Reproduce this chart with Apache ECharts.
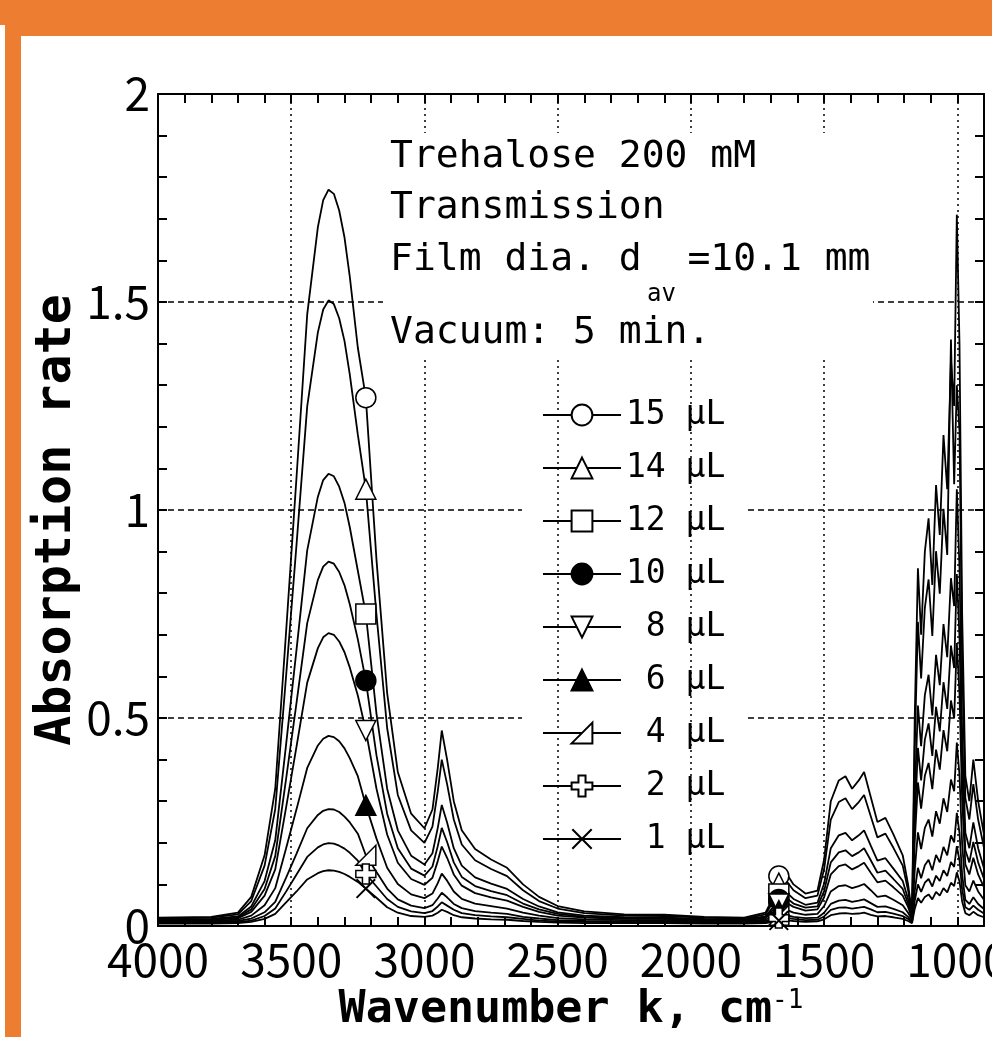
<!DOCTYPE html>
<html>
<head>
<meta charset="utf-8">
<title>Trehalose 200 mM - Transmission</title>
<script src="https://cdn.jsdelivr.net/npm/echarts/dist/echarts.min.js"></script>
<style>
  html, body { margin: 0; padding: 0; background: #fff; }
  #grafica { width: 992px; height: 1037px; }
</style>
</head>
<body>
<div id="grafica"></div>
<script>
// Numero de onda (cm-1), mismo eje para todas las curvas
const numeroOnda = [
  4000, 3800, 3700, 3650, 3600, 3560, 3520, 3480, 3440, 3400, 3380, 3360, 3340, 3320, 3300, 3280, 3250, 3220, 3180, 3140, 3100, 3050,
  3000, 2970, 2950, 2935, 2915, 2890, 2860, 2810, 2750, 2690, 2630, 2570, 2500,
  2400, 2250, 2100, 1950, 1800,
  1720, 1690, 1670, 1645, 1615, 1570, 1525, 1500,
  1475, 1445, 1420, 1395, 1370, 1350, 1325, 1300, 1270, 1240, 1205, 1185, 1170,
  1160, 1148, 1136, 1122, 1108, 1094, 1080, 1066, 1052, 1038, 1024, 1012, 1002, 992, 982, 970, 955, 940, 922, 900
];

const abs15 = [
  0.020, 0.022, 0.032, 0.070, 0.17, 0.33, 0.70, 1.08, 1.47, 1.68, 1.745, 1.77, 1.76, 1.72, 1.655, 1.56, 1.39, 1.27, 0.88, 0.56, 0.37, 0.27,
  0.235, 0.28, 0.38, 0.47, 0.40, 0.30, 0.23, 0.185, 0.16, 0.14, 0.10, 0.07, 0.048,
  0.035, 0.028, 0.027, 0.022, 0.020,
  0.032, 0.07, 0.12, 0.13, 0.10, 0.078, 0.085, 0.16,
  0.30, 0.35, 0.36, 0.33, 0.35, 0.37, 0.31, 0.25, 0.26, 0.22, 0.17, 0.10, 0.03,
  0.50, 0.86, 0.70, 0.90, 0.98, 0.82, 1.06, 0.94, 1.18, 1.05, 1.36, 1.25, 1.71, 1.40, 0.75, 0.36, 0.30, 0.40, 0.30, 0.22
];
const abs14 = [
  0.018, 0.020, 0.028, 0.060, 0.145, 0.281, 0.595, 0.918, 1.249, 1.427, 1.482, 1.504, 1.495, 1.461, 1.406, 1.325, 1.181, 1.050, 0.748, 0.476, 0.315, 0.230,
  0.200, 0.239, 0.324, 0.400, 0.341, 0.256, 0.196, 0.158, 0.137, 0.120, 0.086, 0.060, 0.042,
  0.031, 0.025, 0.024, 0.020, 0.018,
  0.028, 0.060, 0.103, 0.111, 0.086, 0.067, 0.073, 0.137,
  0.256, 0.298, 0.307, 0.281, 0.298, 0.315, 0.264, 0.213, 0.222, 0.188, 0.145, 0.086, 0.026,
  0.425, 0.731, 0.595, 0.765, 0.833, 0.697, 0.901, 0.799, 1.003, 0.892, 1.410, 1.062, 1.300, 1.190, 0.638, 0.307, 0.256, 0.341, 0.256, 0.188
];
const abs12 = [
  0.016, 0.017, 0.023, 0.047, 0.108, 0.206, 0.432, 0.665, 0.903, 1.032, 1.072, 1.087, 1.081, 1.056, 1.017, 0.958, 0.854, 0.750, 0.510, 0.330, 0.230, 0.169,
  0.148, 0.175, 0.236, 0.291, 0.249, 0.187, 0.145, 0.117, 0.102, 0.089, 0.065, 0.047, 0.033,
  0.025, 0.021, 0.020, 0.017, 0.016,
  0.023, 0.047, 0.077, 0.083, 0.065, 0.051, 0.056, 0.102,
  0.187, 0.218, 0.224, 0.206, 0.218, 0.230, 0.193, 0.157, 0.163, 0.138, 0.108, 0.065, 0.022,
  0.310, 0.530, 0.432, 0.555, 0.604, 0.506, 0.652, 0.579, 0.726, 0.646, 0.836, 0.769, 1.050, 0.861, 0.463, 0.224, 0.187, 0.249, 0.187, 0.138
];
const abs10 = [
  0.015, 0.016, 0.021, 0.040, 0.089, 0.168, 0.350, 0.537, 0.728, 0.832, 0.864, 0.876, 0.871, 0.851, 0.819, 0.773, 0.689, 0.590, 0.410, 0.270, 0.187, 0.138,
  0.121, 0.143, 0.192, 0.236, 0.202, 0.153, 0.118, 0.096, 0.084, 0.074, 0.054, 0.040, 0.029,
  0.022, 0.019, 0.018, 0.016, 0.015,
  0.021, 0.040, 0.064, 0.069, 0.054, 0.044, 0.047, 0.084,
  0.153, 0.177, 0.182, 0.168, 0.177, 0.187, 0.158, 0.128, 0.133, 0.113, 0.089, 0.054, 0.020,
  0.251, 0.428, 0.350, 0.448, 0.487, 0.409, 0.527, 0.468, 0.586, 0.522, 0.674, 0.620, 0.846, 0.694, 0.374, 0.182, 0.153, 0.202, 0.153, 0.113
];
const abs8 = [
  0.014, 0.015, 0.019, 0.034, 0.073, 0.136, 0.282, 0.432, 0.585, 0.668, 0.694, 0.704, 0.700, 0.684, 0.658, 0.621, 0.554, 0.470, 0.330, 0.220, 0.152, 0.113,
  0.099, 0.116, 0.156, 0.191, 0.164, 0.124, 0.097, 0.079, 0.069, 0.061, 0.046, 0.034, 0.025,
  0.020, 0.017, 0.017, 0.015, 0.014,
  0.019, 0.034, 0.053, 0.057, 0.046, 0.037, 0.040, 0.069,
  0.124, 0.144, 0.148, 0.136, 0.144, 0.152, 0.128, 0.105, 0.109, 0.093, 0.073, 0.046, 0.018,
  0.203, 0.345, 0.282, 0.361, 0.392, 0.329, 0.424, 0.376, 0.471, 0.420, 0.542, 0.499, 0.680, 0.558, 0.302, 0.148, 0.124, 0.164, 0.124, 0.093
];
const abs6 = [
  0.012, 0.013, 0.015, 0.025, 0.050, 0.091, 0.185, 0.281, 0.380, 0.434, 0.450, 0.457, 0.454, 0.444, 0.427, 0.403, 0.360, 0.290, 0.210, 0.140, 0.101, 0.076,
  0.067, 0.078, 0.103, 0.126, 0.109, 0.083, 0.065, 0.054, 0.048, 0.042, 0.032, 0.025, 0.019,
  0.016, 0.014, 0.014, 0.013, 0.012,
  0.015, 0.025, 0.037, 0.040, 0.032, 0.027, 0.029, 0.048,
  0.083, 0.096, 0.098, 0.091, 0.096, 0.101, 0.086, 0.070, 0.073, 0.063, 0.050, 0.032, 0.015,
  0.134, 0.225, 0.185, 0.236, 0.256, 0.215, 0.276, 0.246, 0.307, 0.274, 0.352, 0.324, 0.441, 0.363, 0.197, 0.098, 0.083, 0.109, 0.083, 0.063
];
const abs4 = [
  0.010, 0.010, 0.012, 0.018, 0.033, 0.058, 0.115, 0.174, 0.235, 0.267, 0.277, 0.281, 0.280, 0.274, 0.263, 0.249, 0.222, 0.170, 0.130, 0.090, 0.064, 0.049,
  0.043, 0.050, 0.066, 0.080, 0.069, 0.053, 0.043, 0.036, 0.032, 0.029, 0.022, 0.018, 0.014,
  0.012, 0.011, 0.011, 0.010, 0.010,
  0.012, 0.018, 0.026, 0.027, 0.022, 0.019, 0.020, 0.032,
  0.053, 0.061, 0.063, 0.058, 0.061, 0.064, 0.055, 0.046, 0.047, 0.041, 0.033, 0.022, 0.012,
  0.084, 0.140, 0.115, 0.146, 0.159, 0.134, 0.171, 0.153, 0.190, 0.170, 0.218, 0.201, 0.272, 0.224, 0.123, 0.063, 0.053, 0.069, 0.053, 0.041
];
const abs2 = [
  0.008, 0.008, 0.009, 0.013, 0.024, 0.042, 0.082, 0.124, 0.166, 0.189, 0.196, 0.199, 0.198, 0.193, 0.186, 0.176, 0.157, 0.125, 0.095, 0.065, 0.046, 0.035,
  0.031, 0.036, 0.047, 0.057, 0.049, 0.039, 0.031, 0.026, 0.023, 0.021, 0.017, 0.013, 0.011,
  0.010, 0.009, 0.009, 0.008, 0.008,
  0.009, 0.013, 0.019, 0.020, 0.017, 0.014, 0.015, 0.023,
  0.039, 0.044, 0.045, 0.042, 0.044, 0.046, 0.040, 0.033, 0.034, 0.030, 0.024, 0.017, 0.009,
  0.060, 0.100, 0.082, 0.104, 0.113, 0.095, 0.121, 0.108, 0.134, 0.120, 0.154, 0.142, 0.192, 0.158, 0.088, 0.045, 0.039, 0.049, 0.039, 0.030
];
const abs1 = [
  0.006, 0.006, 0.007, 0.010, 0.017, 0.029, 0.056, 0.083, 0.112, 0.127, 0.132, 0.134, 0.133, 0.130, 0.125, 0.118, 0.106, 0.090, 0.068, 0.045, 0.032, 0.024,
  0.022, 0.025, 0.032, 0.039, 0.034, 0.026, 0.021, 0.018, 0.016, 0.015, 0.012, 0.010, 0.008,
  0.007, 0.007, 0.007, 0.006, 0.006,
  0.007, 0.010, 0.013, 0.014, 0.012, 0.010, 0.011, 0.016,
  0.026, 0.030, 0.031, 0.029, 0.030, 0.032, 0.027, 0.023, 0.024, 0.021, 0.017, 0.012, 0.007,
  0.041, 0.067, 0.056, 0.070, 0.076, 0.064, 0.082, 0.073, 0.091, 0.081, 0.104, 0.096, 0.129, 0.107, 0.059, 0.031, 0.026, 0.034, 0.026, 0.021
];

const nombres = ['15 μL', '14 μL', '12 μL', '10 μL', '8 μL', '6 μL', '4 μL', '2 μL', '1 μL'];
const valores = [abs15, abs14, abs12, abs10, abs8, abs6, abs4, abs2, abs1];

// Posiciones donde la figura dibuja los marcadores
const marcadoresEn = [3220, 1670];

// Marcas de los ejes
const etiquetasX = [1000, 1500, 2000, 2500, 3000, 3500, 4000];

// Simbolos de cada curva (hueco = relleno blanco)
const simbolos = [
  { symbol: 'circle', relleno: '#fff' },
  { symbol: 'triangle', relleno: '#fff' },
  { symbol: 'rect', relleno: '#fff' },
  { symbol: 'circle', relleno: '#000' },
  { symbol: 'path://M0,0 L10,0 L5,10 Z', relleno: '#fff' },
  { symbol: 'triangle', relleno: '#000' },
  { symbol: 'path://M0,10 L10,0 L10,10 Z', relleno: '#fff' },
  { symbol: 'path://M3.3,0 H6.7 V3.3 H10 V6.7 H6.7 V10 H3.3 V6.7 H0 V3.3 H3.3 Z', relleno: '#fff' },
  { symbol: 'path://M0,0.7 L0.7,0 L10,9.3 L9.3,10 Z M9.3,0 L10,0.7 L0.7,10 L0,9.3 Z', relleno: '#000', sinBorde: true }
];

const fuenteMono = '"DejaVu Sans Mono", monospace';
const fuenteNum = '"Liberation Sans Narrow", "Noto Sans CJK KR", sans-serif';

const grafica = echarts.init(document.getElementById('grafica'));

const series = nombres.map((nombre, i) => {
  const s = {
    name: nombre,
    type: 'line',
    data: numeroOnda.map((x, j) => [x, valores[i][j]]),
    symbol: simbolos[i].symbol,
    symbolSize: (v) => marcadoresEn.includes(v[0]) ? 20 : 0,
    showSymbol: true,
    lineStyle: { color: '#000', width: 1.8 },
    itemStyle: {
      color: simbolos[i].relleno,
      borderColor: '#000',
      borderWidth: simbolos[i].sinBorde ? 0 : 1.5
    },
    emphasis: { disabled: true },
    z: 3
  };
  return s;
});

// Lineas punteadas verticales de la cuadricula
series[0].markLine = {
  silent: true,
  symbol: ['none', 'none'],
  label: { show: false },
  lineStyle: { color: '#000', type: [2, 4], width: 1.5 },
  data: etiquetasX.map(v => ({ xAxis: v })),
  animation: false
};

const ejeX = {
  type: 'value',
  min: 900,
  max: 4000,
  interval: 100,
  inverse: true,
  axisLine: { show: true, onZero: false, lineStyle: { color: '#000', width: 2 } },
  axisTick: { show: true, inside: true, length: 9, lineStyle: { color: '#000', width: 2 } },
  splitLine: { show: false }
};

const ejeY = {
  type: 'value',
  min: 0,
  max: 2,
  interval: 0.5,
  axisLine: { show: true, onZero: false, lineStyle: { color: '#000', width: 2 } },
  axisTick: { show: true, inside: true, length: 9, lineStyle: { color: '#000', width: 2 } },
  minorTick: { show: true, splitNumber: 5, length: 9, lineStyle: { color: '#000', width: 2 } },
  splitLine: { show: false }
};

const option = {
  animation: false,
  backgroundColor: '#fff',
  grid: { left: 158, right: 8, top: 94, bottom: 111, containLabel: false, outerBoundsMode: 'none' },
  xAxis: [
    Object.assign({}, ejeX, {
      position: 'bottom',
      axisLabel: {
        margin: 11,
        color: '#000',
        fontFamily: fuenteNum,
        fontSize: 46,
        formatter: v => (v % 500 === 0 ? String(v) : '')
      },
      name: '{main|Wavenumber k, cm}{sup|-1}',
      nameLocation: 'middle',
      nameGap: 58,
      nameTextStyle: {
        rich: {
          main: { fontFamily: fuenteMono, fontWeight: 'bold', fontSize: 45, color: '#000', lineHeight: 52, verticalAlign: 'top' },
          sup: { fontFamily: fuenteMono, fontSize: 26, color: '#000', lineHeight: 26, verticalAlign: 'top' }
        }
      }
    }),
    Object.assign({}, ejeX, { position: 'top', axisLabel: { show: false } })
  ],
  yAxis: [
    Object.assign({}, ejeY, {
      position: 'left',
      splitLine: { show: true, lineStyle: { color: '#000', type: [6, 4], width: 1.5 } },
      axisLabel: { margin: 8, color: '#000', fontFamily: fuenteNum, fontSize: 46 },
      name: 'Absorption rate',
      nameLocation: 'middle',
      nameRotate: 90,
      nameGap: 76,
      nameMoveOverlap: false,
      nameTextStyle: { fontFamily: fuenteMono, fontWeight: 'bold', fontSize: 50, color: '#000', padding: [0, 20, 0, 0] }
    }),
    Object.assign({}, ejeY, { position: 'right', axisLabel: { show: false } })
  ],
  legend: {
    orient: 'vertical',
    left: 522,
    top: 383,
    padding: [15, 20, 10, 20],
    backgroundColor: '#fff',
    itemWidth: 78,
    itemHeight: 26,
    itemGap: 19,
    selectedMode: false,
    data: nombres,
    formatter: n => n.padStart(5, ' '),
    textStyle: { color: '#000', fontFamily: fuenteMono, fontSize: 33, lineHeight: 34 }
  },
  graphic: [
    // Marco naranja de la diapositiva
    { type: 'rect', z: 100, shape: { x: 0, y: 0, width: 992, height: 25 }, style: { fill: '#ED7D31' } },
    { type: 'rect', z: 100, shape: { x: 5, y: 25, width: 987, height: 11 }, style: { fill: '#ED7D31' } },
    { type: 'rect', z: 100, shape: { x: 5, y: 25, width: 16, height: 1012 }, style: { fill: '#ED7D31' } },
    // Caja de texto con las condiciones
    { type: 'rect', z: 50, shape: { x: 383, y: 133, width: 490, height: 226 }, style: { fill: '#fff' } },
    { type: 'text', z: 51, x: 390, y: 157, style: { text: 'Trehalose 200 mM', fontFamily: fuenteMono, fontSize: 38, fill: '#000', verticalAlign: 'middle', textVerticalAlign: 'middle' } },
    { type: 'text', z: 51, x: 390, y: 208, style: { text: 'Transmission', fontFamily: fuenteMono, fontSize: 38, fill: '#000', verticalAlign: 'middle', textVerticalAlign: 'middle' } },
    { type: 'text', z: 51, x: 390, y: 260, style: { text: 'Film dia. d  =10.1 mm', fontFamily: fuenteMono, fontSize: 38, fill: '#000', verticalAlign: 'middle', textVerticalAlign: 'middle' } },
    { type: 'text', z: 51, x: 647, y: 295, style: { text: 'av', fontFamily: fuenteMono, fontSize: 24, fill: '#000', verticalAlign: 'middle', textVerticalAlign: 'middle' } },
    { type: 'text', z: 51, x: 390, y: 333, style: { text: 'Vacuum: 5 min.', fontFamily: fuenteMono, fontSize: 38, fill: '#000', verticalAlign: 'middle', textVerticalAlign: 'middle' } }
  ],
  series: series
};

grafica.setOption(option);
</script>
</body>
</html>
